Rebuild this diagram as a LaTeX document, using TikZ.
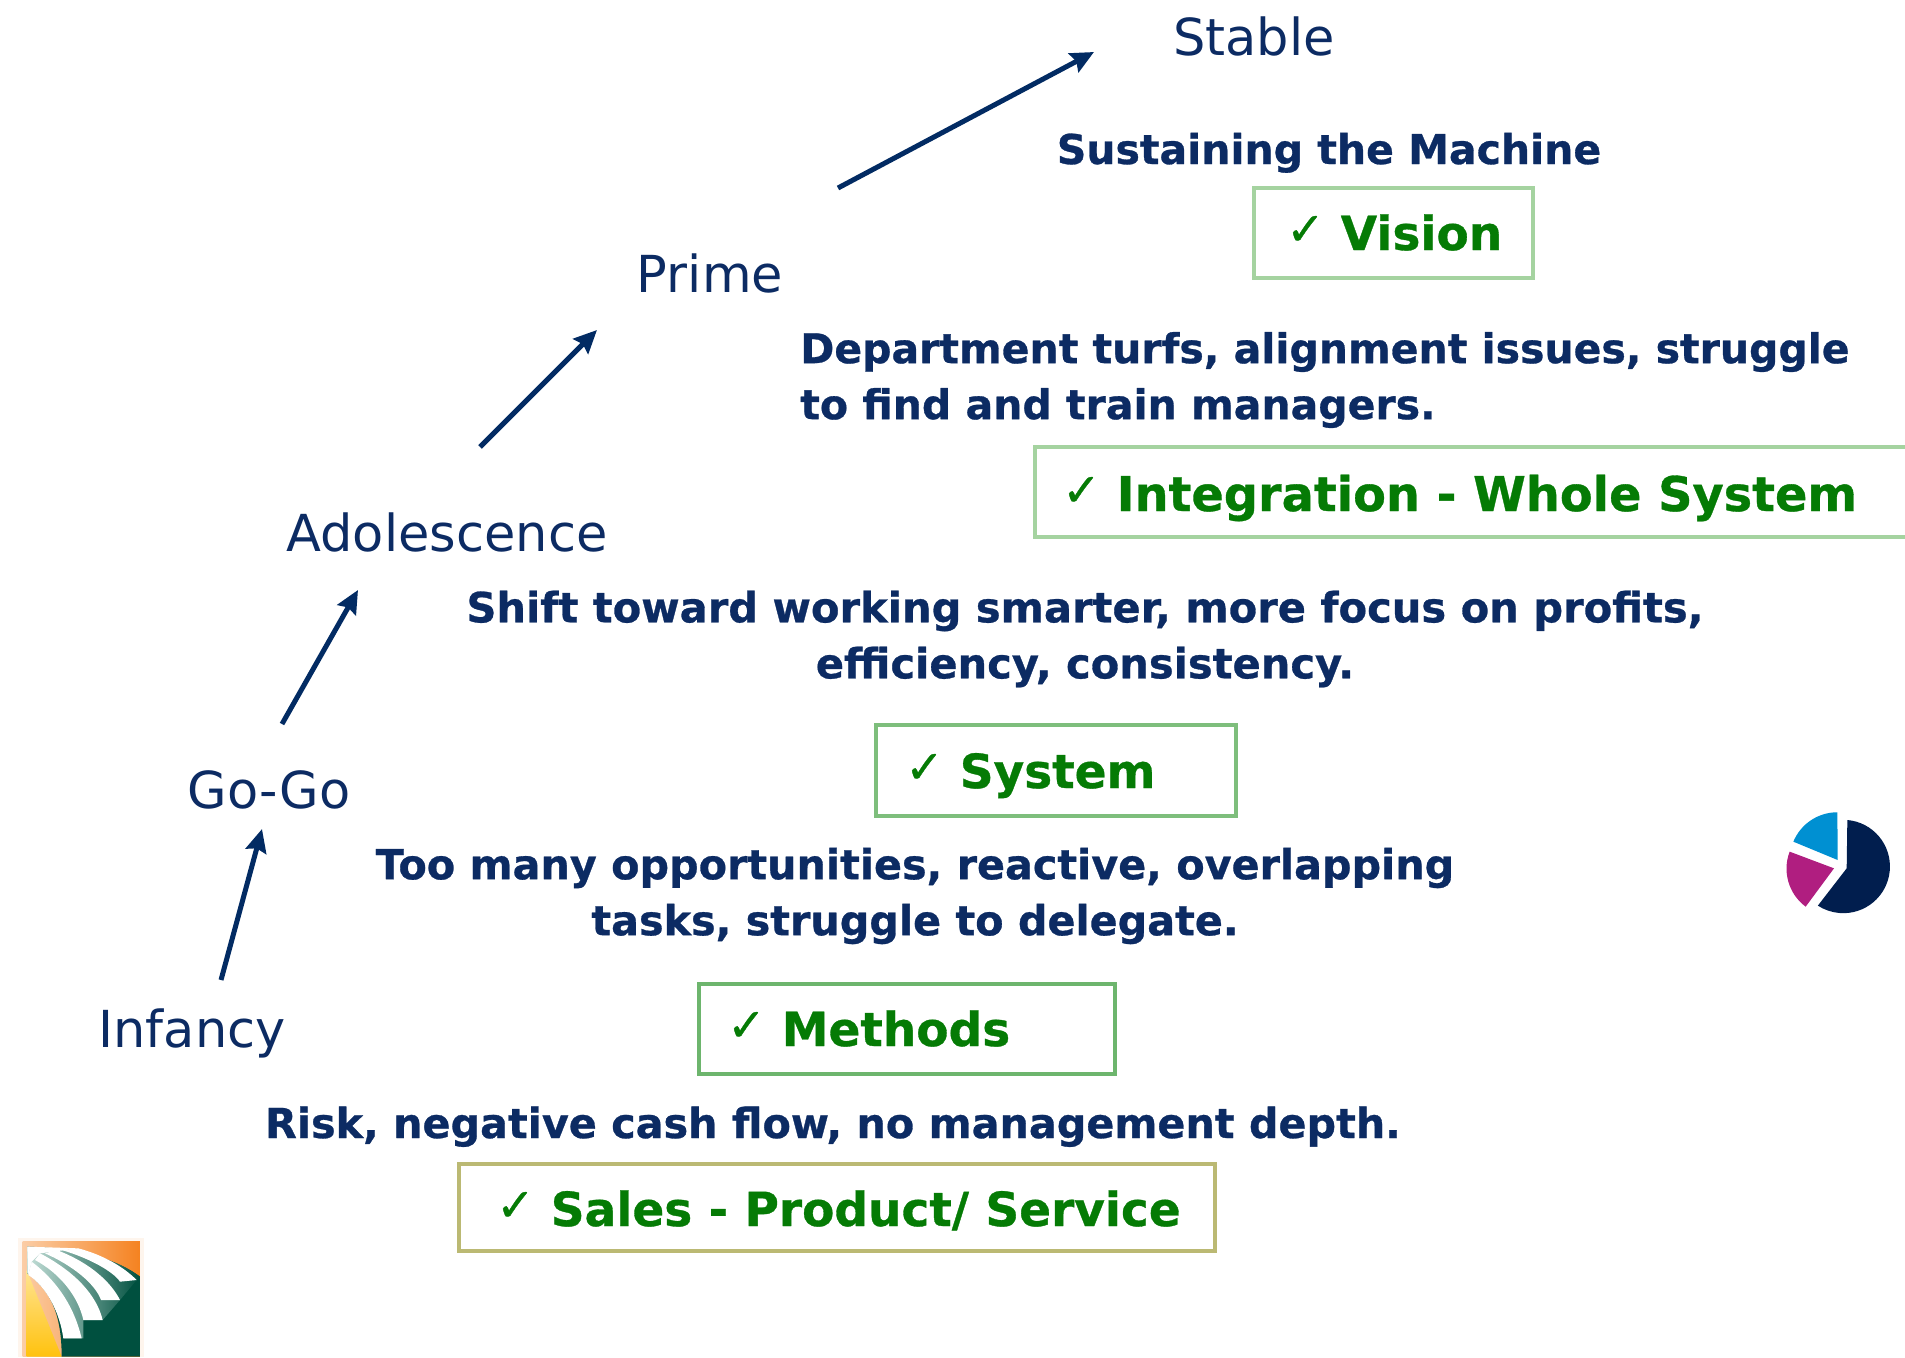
\documentclass[tikz,border=0pt]{standalone}
\usepackage{fontspec}
\setmainfont[BoldFeatures={FakeBold=0.7}]{DejaVu Sans}
\usetikzlibrary{arrows.meta}
\definecolor{navytxt}{HTML}{0C2B63}
\definecolor{navyarrow}{HTML}{022B63}
\definecolor{greentxt}{HTML}{057B05}
\definecolor{boxgreen}{HTML}{A5D3A0}
\definecolor{boxmid}{HTML}{6DB56D}
\definecolor{boxolive}{HTML}{BBB973}
\definecolor{piecyan}{HTML}{0090D2}
\definecolor{piepink}{HTML}{B01E80}
\definecolor{pienavy}{HTML}{011E4E}
\definecolor{logoorange}{HTML}{F58220}
\definecolor{logoyellow}{HTML}{FFC20E}
\definecolor{logogreen}{HTML}{00503F}
\definecolor{logopale}{HTML}{C4DFD8}
\newcommand{\tick}{\raisebox{5pt}{\fontsize{46}{46}\selectfont ✓}\hspace{16pt}}
\tikzset{
  stage/.style={font=\fontsize{51}{56}\selectfont, text=navytxt, anchor=base, inner sep=0},
  issue/.style={font=\fontsize{41}{56}\selectfont\bfseries, text=navytxt, inner sep=0},
  captext/.style={font=\fontsize{47}{47}\selectfont\bfseries, text=greentxt, anchor=base west, inner sep=0},
  capbox/.style={draw=boxgreen, line width=4pt, fill=white, anchor=north west, inner sep=0},
  growth/.style={draw=navyarrow, line width=5pt, -{Stealth[inset=3pt,length=23pt,width=21pt]}},
}
\begin{document}
\begin{tikzpicture}[x=1pt,y=1pt,yscale=-1]
\useasboundingbox (0,0) rectangle (1905,1357);
% boxes
\node[capbox, minimum width=279pt, minimum height=90pt] (bvision) at (1252,186) {};
\node[capbox, minimum width=900pt, minimum height=90pt] (bintegration) at (1033,445) {};
\node[capbox, draw=boxmid!70!boxgreen, minimum width=360pt, minimum height=91pt] (bsystem) at (874,723) {};
\node[capbox, draw=boxmid, minimum width=416pt, minimum height=90pt] (bmethods) at (697,982) {};
\node[capbox, draw=boxolive, minimum width=756pt, minimum height=87pt] (bsales) at (457,1162) {};
% stage labels
\node[stage] (stable) at (1254,55) {Stable};
\node[stage] (prime) at (710,292) {Prime};
\node[stage] (adolescence) at (447,551) {Adolescence};
\node[stage] (gogo) at (269,808) {Go-Go};
\node[stage] (infancy) at (192,1047) {Infancy};
% issue labels
\node[issue, anchor=base] (sustain) at (1329,164) {Sustaining the Machine};
\node[issue, anchor=center, align=left] (dept) at (1325,380) {Department turfs, alignment issues, struggle\\to find and train managers.};
\node[issue, font=\fontsize{41.6}{56}\selectfont\bfseries, anchor=center, align=center] (shift) at (1085,639) {Shift toward working smarter, more focus on profits,\\efficiency, consistency.};
\node[issue, font=\fontsize{41.3}{56}\selectfont\bfseries, anchor=center, align=center] (toomany) at (915,896) {Too many opportunities, reactive, overlapping\\tasks, struggle to delegate.};
\node[issue, font=\fontsize{41.3}{56}\selectfont\bfseries, anchor=base] (risk) at (833,1138) {Risk, negative cash flow, no management depth.};
% captions
\node[captext] (cvision) at (1286,250) {\tick Vision};
\node[captext, font=\fontsize{47.8}{48}\selectfont\bfseries] (cintegration) at (1062,511) {\tick Integration - Whole System};
\node[captext] (csystem) at (905,788) {\tick System};
\node[captext] (cmethods) at (727,1046) {\tick Methods};
\node[captext] (csales) at (496,1226) {\tick Sales - Product/ Service};
% arrows
\coordinate (a1s) at (221,980); \coordinate (a1e) at (262,829);
\coordinate (a2s) at (282,724); \coordinate (a2e) at (358,590);
\coordinate (a3s) at (480,447); \coordinate (a3e) at (597,330);
\coordinate (a4s) at (838,188); \coordinate (a4e) at (1094,52);
\draw[growth] (a1s) -- (a1e);
\draw[growth] (a2s) -- (a2e);
\draw[growth] (a3s) -- (a3e);
\draw[growth] (a4s) -- (a4e);
% pie
\begin{scope}[shift={(1760,790)},scale=1/3]
\fill[pienavy] (262,90) arc[start angle=-85,end angle=123,radius=140pt] -- (260,235) -- cycle;
\fill[piepink] (222,235) -- (137,350) arc[start angle=126.5,end angle=201,radius=142pt] -- cycle;
\fill[piecyan] (233,210) -- (100,155) arc[start angle=-157.5,end angle=-90,radius=143pt] -- cycle;
\end{scope}
% logo
\begin{scope}[shift={(0,1220)},scale=1/3]
\fill[white!92!logoorange] (55,55) rectangle (432,411);
\shade[left color=logoorange!40!white, right color=logoorange] (68,65) rectangle (420,410);
\shade[top color=logoyellow!45!white, bottom color=logoyellow] (80,150) -- (185,410) -- (80,410) -- cycle;
\fill[logogreen] (82,160) .. controls (150,210) and (185,280) .. (185,410) -- (420,410) -- (420,170) .. controls (340,110) and (220,85) .. (82,80) -- cycle;
\shade[left color=logopale, right color=logogreen] (82,160) .. controls (150,210) and (185,280) .. (190,355) -- (250,355) -- (250,300) -- (308,300) -- (360,240) -- (410,180) -- (420,170) .. controls (340,110) and (220,85) .. (82,80) -- cycle;
\fill[white] (85,165) .. controls (140,200) and (180,280) .. (190,355) -- (245,355) .. controls (225,270) and (180,190) .. (95,125) -- cycle;
\fill[white] (105,120) .. controls (180,160) and (235,230) .. (250,300) -- (308,300) .. controls (290,225) and (225,155) .. (120,100) -- cycle;
\fill[white] (135,100) .. controls (215,135) and (285,190) .. (303,240) -- (360,240) .. controls (335,190) and (275,130) .. (170,90) -- cycle;
\fill[white] (185,90) .. controls (270,115) and (340,155) .. (360,185) -- (410,180) .. controls (370,140) and (310,105) .. (235,85) -- cycle;
\fill[white] (82,80) -- (235,85) -- (120,100) -- (95,125) -- (85,165) -- cycle;
\end{scope}
\end{tikzpicture}
\end{document}
